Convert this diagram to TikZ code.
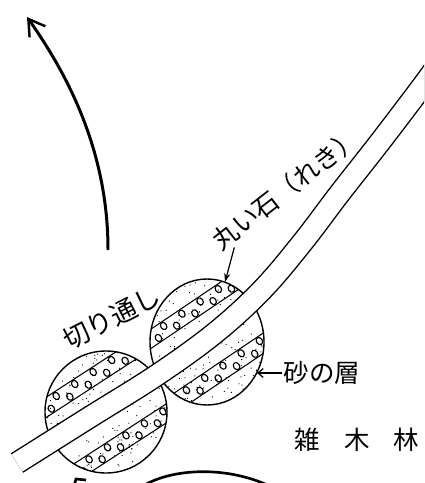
\documentclass[tikz,border=0pt]{standalone}
\usepackage{fontspec}
\newfontfamily\jp{Noto Sans CJK JP}
\usetikzlibrary{arrows.meta, calc}

\begin{document}
\begin{tikzpicture}[x=0.02cm, y=-0.02cm,
    lbl/.style={font=\jp\fontsize{14.5}{15}\selectfont, inner sep=1pt},
    rim/.style={line width=0.8pt},
    bed/.style={line width=0.6pt},
    pebble/.style={line width=0.65pt},
    road/.style={line width=0.8pt, double=white, double distance=11.5pt},
    leader/.style={line width=0.7pt, -{Stealth[length=5pt, width=3.5pt]}},
    barbleader/.style={line width=0.7pt, -{Straight Barb[length=3pt, width=5pt]}},
    flow/.style={line width=1.7pt, -{Straight Barb[length=9pt, width=11pt, line width=1.4pt]}},
    hill/.style={line width=1.5pt}]

  \useasboundingbox (0,0) rectangle (424,483);
  \clip (0,0) rectangle (424,483);

  % lower-left mound
  \begin{scope}
    \clip (106,412) circle [radius=61];
    \begin{scope}[shift={(106,412)}, rotate=33]
      \pgfmathsetseed{3}
      \foreach \k in {1,...,190}
        \fill ({rand*62},{rand*62}) circle [radius=0.65];
      \draw[bed] (-70,-28) -- (70,-28) (-70,-45) -- (70,-45);
      \draw[bed] (-70,26) -- (70,26) (-70,42) -- (70,42);
      % pebbles
      \foreach \u in {-66,-44,...,66} {
        \draw[pebble] (\u,-32.5) ellipse [x radius=3, y radius=3.8];
        \draw[pebble] (\u+11,-40.5) ellipse [x radius=3, y radius=3.8];
        \draw[pebble] (\u+4,30.5) ellipse [x radius=3, y radius=3.8];
        \draw[pebble] (\u+15,37.5) ellipse [x radius=3, y radius=3.8];
      }
    \end{scope}
  \end{scope}
  \draw[rim] (106,412) circle [radius=61];

  % upper-right mound
  \begin{scope}
    \clip (207,342) ellipse [x radius=57, y radius=63];
    \begin{scope}[shift={(207,342)}, rotate=34]
      \pgfmathsetseed{11}
      \foreach \k in {1,...,190}
        \fill ({rand*66},{rand*66}) circle [radius=0.65];
      \draw[bed] (-75,-26) -- (75,-26) (-75,-42) -- (75,-42);
      \draw[bed] (-75,24) -- (75,24) (-75,41) -- (75,41);
      % pebbles
      \foreach \u in {-66,-44,...,66} {
        \draw[pebble] (\u+6,-30.5) ellipse [x radius=3, y radius=3.8];
        \draw[pebble] (\u+17,-37.5) ellipse [x radius=3, y radius=3.8];
        \draw[pebble] (\u,28.5) ellipse [x radius=3, y radius=3.8];
        \draw[pebble] (\u+11,36.5) ellipse [x radius=3, y radius=3.8];
      }
    \end{scope}
  \end{scope}
  \draw[rim] (207,342) ellipse [x radius=57, y radius=63];

  % the cutting, drawn over both mounds
  \draw[road] plot[smooth, tension=0.6] coordinates
    {(17,463) (90,417) (157,375) (215,333) (262,290) (302,243) (340,193) (380,142) (424,84) (450,48)};

  % labels
  \node[lbl, rotate=27, font=\jp\fontsize{15}{15}\selectfont] (cut) at (112,318) {切り通し};
  \node[lbl, rotate=38] (gravel) at (286,189) {丸い石（れき）};
  \node[lbl] (sand) at (322,373) {砂の層};
  \node[lbl] (wood) at (357,440) {雑\hspace{0.95em}木\hspace{0.95em}林};

  \coordinate (pebbletip) at (225,282);
  \coordinate (sandtip) at (257,373);
  \draw[leader] ($(gravel.south west)!0.08!(gravel.south east)$) -- (pebbletip);
  \draw[barbleader] (sand.west) -- (sandtip);

  % direction arrow
  \coordinate (flowstart) at (108,250);
  \coordinate (flowend) at (27,17);
  \draw[flow] (flowstart) .. controls (108,160) and (75,85) .. (flowend);

  % ground line at the bottom edge
  \draw[hill] (140,488) .. controls (165,470) and (225,462) .. (278,490);
  \draw[hill] (74,486) -- (76,479) -- (86,480);
\end{tikzpicture}
\end{document}
